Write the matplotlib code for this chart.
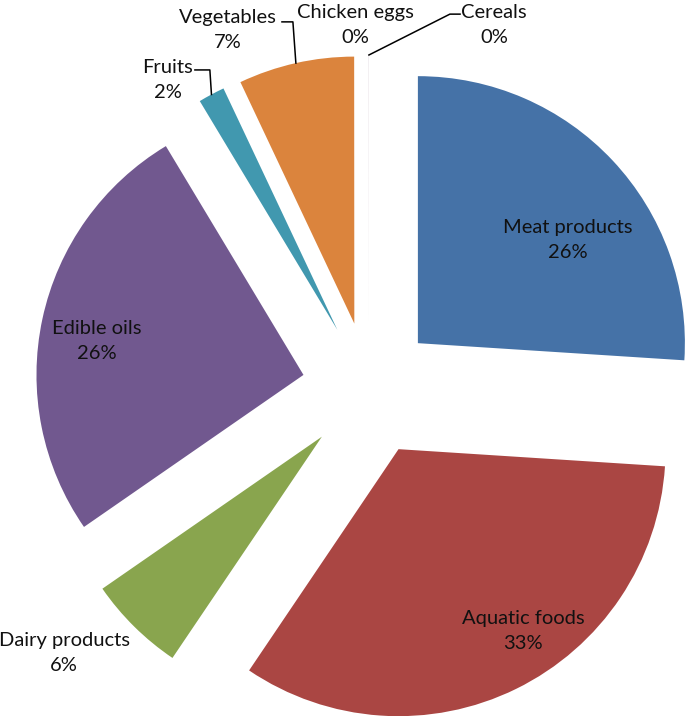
import matplotlib
matplotlib.use("Agg")
import matplotlib.pyplot as plt
import numpy as np

# food groups, share of total (%)
categorias = ["Meat products", "Aquatic foods", "Dairy products", "Edible oils",
              "Fruits", "Vegetables", "Chicken eggs", "Cereals"]
valores = [26.0, 33.4, 5.9, 26.0, 1.6, 7.0, 0.005, 0.005]
colores = ["#4572A7", "#AA4643", "#89A54E", "#71588F",
           "#4198AF", "#DB843D", "#93A9CF", "#D19392"]

# where each label sits (data units, pie radius = 1) and the leader elbow if any
pos_etiquetas = [(0.745, 0.558), (0.577, -0.906), (-1.142, -0.989), (-1.019, 0.180),
                 (-0.753, 1.157), (-0.528, 1.345), (-0.052, 1.363), (0.468, 1.363)]
codos = [None, None, None, None,
         ((-0.652, 1.195), (-0.596, 1.195)),
         ((-0.326, 1.375), (-0.285, 1.375)),
         None,
         ((0.341, 1.404), (0.303, 1.404))]

separacion = 0.251

plt.rcParams['font.family'] = ['Lato', 'DejaVu Sans']

fig = plt.figure(figsize=(6.85, 7.16), dpi=100)
ax = fig.add_axes([0, 0, 1, 1])

wedges, _ = ax.pie(valores, colors=colores, startangle=90, counterclock=False,
                   explode=[separacion] * len(valores),
                   wedgeprops=dict(linewidth=0))

for i, w in enumerate(wedges):
    pct = int(round(valores[i]))
    x, y = pos_etiquetas[i]
    ax.text(x, y, "{}\n{}%".format(categorias[i], pct), ha="center", va="center",
            fontsize=14.5, color="#111111", linespacing=1.55)
    if codos[i] is not None:
        ang = np.deg2rad((w.theta1 + w.theta2) / 2)
        r = 1 + separacion
        px, py = r * np.cos(ang), r * np.sin(ang)
        (ex, ey), (hx, hy) = codos[i]
        ax.plot([px, hx, ex], [py, hy, ey], color="black", linewidth=1.1)

ax.set_xlim(-369 / 267, 316 / 267)
ax.set_ylim(-327 / 267, 389 / 267)
ax.set_aspect("equal")
ax.axis("off")

fig.savefig("out.png", dpi=100)
